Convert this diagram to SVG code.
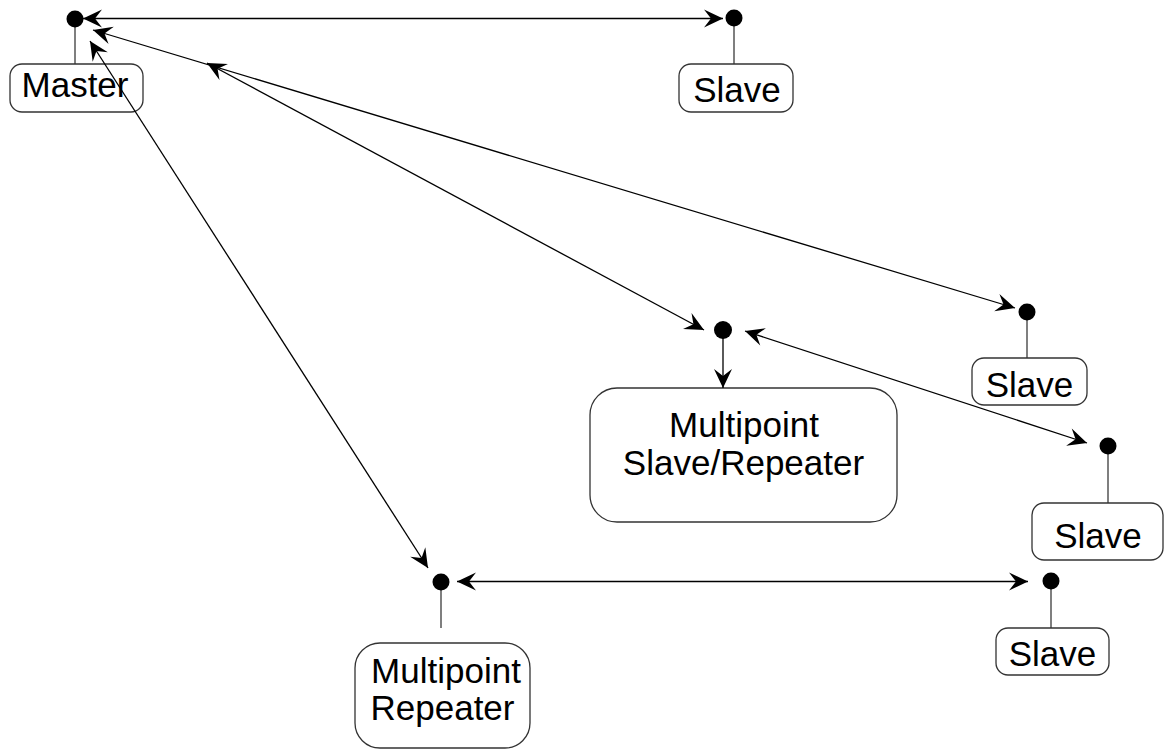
<svg xmlns="http://www.w3.org/2000/svg" width="1164" height="749" viewBox="0 0 1164 749">
<style>
.box{fill:#fff;stroke:#333;stroke-width:1.3}
.lbl{font-family:"Liberation Sans",Arial,sans-serif;font-size:35px;fill:#000;text-anchor:middle}
.dot{fill:#000}
.stem{stroke:#555;stroke-width:1.5}
.conn{stroke:#000;stroke-width:1.3;fill:none}
</style>
<defs>
<marker id="ah" markerUnits="userSpaceOnUse" markerWidth="24" markerHeight="24" viewBox="-20 -12 24 24" refX="0" refY="0" orient="auto-start-reverse">
<path d="M0,0 L-19,-9 L-12,0 L-19,9 Z" fill="#000"/>
</marker>
</defs>
<g id="master">
<line class="stem" x1="75" y1="19" x2="75" y2="64"/>
<circle class="dot" cx="75" cy="19" r="8.5"/>
<rect class="box" x="10" y="64" width="133" height="48" rx="12"/>
<text class="lbl" x="75" y="97">Master</text>
</g>
<g id="slave1">
<line class="stem" x1="734" y1="18" x2="734" y2="64"/>
<circle class="dot" cx="734" cy="18" r="8.5"/>
<rect class="box" x="679" y="64" width="114" height="48" rx="12"/>
<text class="lbl" x="737" y="102">Slave</text>
</g>
<g id="slave2">
<line class="stem" x1="1027" y1="312" x2="1027" y2="358"/>
<circle class="dot" cx="1027" cy="312" r="8.5"/>
<rect class="box" x="972" y="358" width="115" height="47" rx="12"/>
<text class="lbl" x="1029.5" y="397">Slave</text>
</g>
<g id="msr">
<circle class="dot" cx="723" cy="330" r="9"/>
<rect class="box" x="590" y="388" width="307" height="134" rx="27"/>
<text class="lbl" x="744" y="437">Multipoint</text>
<text class="lbl" x="743.5" y="475">Slave/Repeater</text>
</g>
<g id="slave3">
<line class="stem" x1="1108" y1="446" x2="1108" y2="503"/>
<circle class="dot" cx="1108" cy="446" r="8.5"/>
<rect class="box" x="1032" y="503" width="131" height="57" rx="12"/>
<text class="lbl" x="1098" y="548">Slave</text>
</g>
<g id="mr">
<line class="stem" x1="441" y1="582" x2="441" y2="628"/>
<circle class="dot" cx="441" cy="582" r="8.5"/>
<rect class="box" x="355" y="643" width="175" height="105" rx="25"/>
<text class="lbl" x="446" y="683">Multipoint</text>
<text class="lbl" x="442.5" y="720">Repeater</text>
</g>
<g id="slave4">
<line class="stem" x1="1051" y1="581" x2="1051" y2="628"/>
<circle class="dot" cx="1051" cy="581" r="8.5"/>
<rect class="box" x="996" y="628" width="113" height="47" rx="12"/>
<text class="lbl" x="1052.5" y="666">Slave</text>
</g>
<g id="connectors">
<line class="conn" x1="83" y1="18.5" x2="723" y2="18.5" marker-start="url(#ah)" marker-end="url(#ah)"/>
<line class="conn" x1="93" y1="30" x2="1015" y2="308" marker-start="url(#ah)" marker-end="url(#ah)"/>
<line class="conn" x1="207" y1="63" x2="704" y2="330" marker-start="url(#ah)" marker-end="url(#ah)"/>
<line class="conn" x1="90" y1="41" x2="428" y2="568" marker-start="url(#ah)" marker-end="url(#ah)"/>
<line class="conn" x1="745" y1="331" x2="1087" y2="443" marker-start="url(#ah)" marker-end="url(#ah)"/>
<line class="conn" x1="457" y1="581.5" x2="1028" y2="581.5" marker-start="url(#ah)" marker-end="url(#ah)"/>
<line class="conn" x1="723" y1="338" x2="723" y2="388" marker-end="url(#ah)"/>
</g>
</svg>
